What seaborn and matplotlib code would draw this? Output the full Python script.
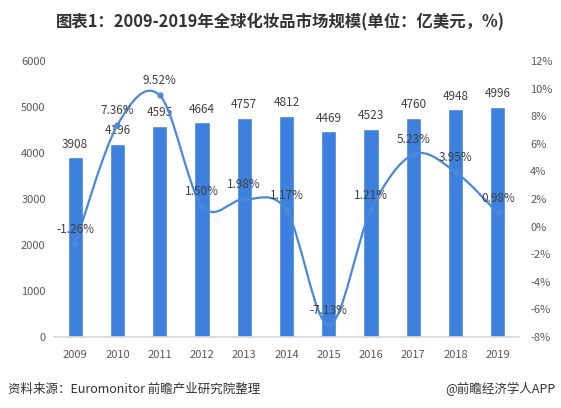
import numpy as np
import pandas as pd
import matplotlib
matplotlib.use('Agg')
import matplotlib.pyplot as plt
import seaborn as sns
from matplotlib.path import Path
from matplotlib.patches import PathPatch

years = ['2009', '2010', '2011', '2012', '2013', '2014', '2015', '2016', '2017', '2018', '2019']
market_size = [3908, 4196, 4595, 4664, 4757, 4812, 4469, 4523, 4760, 4948, 4996]
growth_pct = [-1.26, 7.36, 9.52, 1.50, 1.98, 1.17, -7.13, 1.21, 5.23, 3.95, 0.98]
left_ticks = [0, 1000, 2000, 3000, 4000, 5000, 6000]
right_ticks = [-8, -6, -4, -2, 0, 2, 4, 6, 8, 10, 12]

bar_color = '#3d80de'
line_color = '#4a88da'
tick_color = '#595959'
label_color = '#404040'

sns.set_theme(style='white')
plt.rcParams['font.family'] = ['Noto Sans CJK SC', 'DejaVu Sans']

W, H = 561, 408
fig = plt.figure(figsize=(W / 100, H / 100), dpi=100)
fig.patch.set_facecolor('white')

ax = fig.add_axes([54 / W, 1 - 337 / H, (519 - 54) / W, (337 - 61) / H])
df = pd.DataFrame({'year': years, 'size': market_size})
sns.barplot(data=df, x='year', y='size', color=bar_color, saturation=1,
            width=0.36, ax=ax, zorder=2)
ax.set_xlim(-0.5, len(years) - 0.5)
ax.set_ylim(0, 6000)
ax.set_yticks(left_ticks)
ax.set_yticklabels([str(t) for t in left_ticks])
ax.set_xlabel('')
ax.set_ylabel('')
for s in ['top', 'left', 'right']:
    ax.spines[s].set_visible(False)
ax.spines['bottom'].set_color('#d9d9d9')
ax.tick_params(axis='y', length=0, labelsize=8, colors=tick_color, pad=6)
ax.tick_params(axis='x', length=0, labelsize=8, colors=tick_color, pad=9)
ax.grid(False)

for i, v in enumerate(market_size):
    ax.annotate(str(v), (i, v), xytext=(0, 9.5), textcoords='offset points',
                ha='center', va='center', fontsize=8.5, color=label_color, zorder=3)

ax2 = ax.twinx()
ax2.set_ylim(-8, 12)
ax2.set_yticks(right_ticks)
ax2.set_yticklabels([f'{t}%' for t in right_ticks])
for s in ['top', 'left', 'right', 'bottom']:
    ax2.spines[s].set_visible(False)
ax2.tick_params(axis='y', length=0, labelsize=8, colors=tick_color, pad=8)
ax2.grid(False)

# smooth line (Catmull-Rom as cubic Bezier path through the data points)
pts = np.column_stack([np.arange(len(growth_pct)), np.array(growth_pct, dtype=float)])
n = len(pts)
verts = [tuple(pts[0])]
codes = [Path.MOVETO]
for i in range(n - 1):
    p0 = pts[max(i - 1, 0)]
    p1 = pts[i]
    p2 = pts[i + 1]
    p3 = pts[min(i + 2, n - 1)]
    c1 = p1 + (p2 - p0) / 6.0
    c2 = p2 - (p3 - p1) / 6.0
    verts += [tuple(c1), tuple(c2), tuple(p2)]
    codes += [Path.CURVE4] * 3
patch = PathPatch(Path(verts, codes), facecolor='none', edgecolor=line_color,
                  lw=1.6, zorder=3, capstyle='round', joinstyle='round')
ax2.add_patch(patch)
sns.scatterplot(x=np.arange(n), y=growth_pct, ax=ax2, color=line_color, s=20,
                edgecolor=line_color, linewidth=0, zorder=4, legend=False)
ax2.set_xlim(-0.5, len(years) - 0.5)

for i, v in enumerate(growth_pct):
    ax2.annotate(f'{v:.2f}%', (i, v), xytext=(0, 10.5), textcoords='offset points',
                 ha='center', va='center', fontsize=8.5, color=label_color, zorder=5)

fig.text(0.5, 1 - 22 / H, '图表1：2009-2019年全球化妆品市场规模(单位：亿美元，%)',
         ha='center', va='center', fontsize=11.8, weight='bold', color='#333333')
fig.text(8 / W, 1 - 389 / H, '资料来源：Euromonitor 前瞻产业研究院整理',
         ha='left', va='center', fontsize=9, color='#333333')
fig.text(556 / W, 1 - 389 / H, '@前瞻经济学人APP',
         ha='right', va='center', fontsize=9, color='#333333')

fig.savefig('out.png', dpi=100, facecolor='white')
